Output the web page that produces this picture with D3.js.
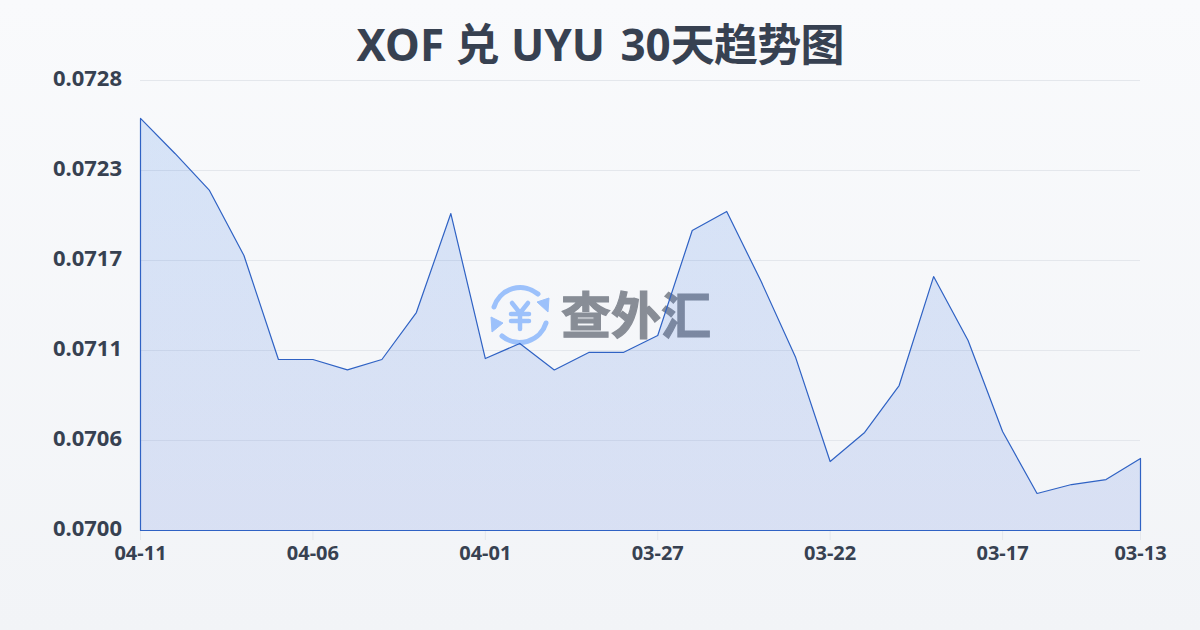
<!DOCTYPE html>
<html><head><meta charset="utf-8">
<script src="https://cdn.jsdelivr.net/npm/d3@7/dist/d3.min.js"></script>
<style>html,body{margin:0;padding:0;background:#f5f7fa}svg{display:block}</style>
</head><body><svg id="c" width="1200" height="630"></svg>
<script>
const titleParts = ["XOF 兑 UYU ","30","天趋势图"];
const dates = ["04-11","04-10","04-09","04-08","04-07","04-06","04-05","04-04","04-03","04-02","04-01","03-31","03-30","03-29","03-28","03-27","03-26","03-25","03-24","03-23","03-22","03-21","03-20","03-19","03-18","03-17","03-16","03-15","03-14","03-13"];
const rates = [0.072564,0.072346,0.072116,0.071711,0.071064,0.071064,0.070999,0.071064,0.071356,0.071972,0.071070,0.071164,0.070999,0.071108,0.071108,0.071213,0.071867,0.071985,0.071549,0.071076,0.070429,0.070610,0.070902,0.071580,0.071182,0.070616,0.070230,0.070286,0.070317,0.070448];
const yTicks = [0.0700,0.07056,0.07112,0.07168,0.07224,0.0728];
const yTickLabels = ["0.0700","0.0706","0.0711","0.0717","0.0723","0.0728"];
const xTickLabels = ["04-11","04-06","04-01","03-27","03-22","03-17","03-13"];
const font = "'Noto Sans','Noto Sans CJK SC',sans-serif";
const svg = d3.select("#c");
const defs = svg.append("defs");
const bg = defs.append("linearGradient").attr("id","bg").attr("x1",0).attr("y1",0).attr("x2",0).attr("y2",1);
bg.append("stop").attr("offset",0).attr("stop-color","#f9fafc");
bg.append("stop").attr("offset",1).attr("stop-color","#f2f4f7");
const af = defs.append("linearGradient").attr("id","af").attr("gradientUnits","userSpaceOnUse").attr("x1",0).attr("y1",118).attr("x2",0).attr("y2",530);
af.append("stop").attr("offset",0).attr("stop-color","#357ce5").attr("stop-opacity",.17);
af.append("stop").attr("offset",1).attr("stop-color","#3560d8").attr("stop-opacity",.14);
svg.append("rect").attr("width",1200).attr("height",630).attr("fill","url(#bg)");

const x = d3.scalePoint().domain(dates).range([140.5,1140.5]);
const y = d3.scaleLinear().domain([0.07,0.0728]).range([530.5,80.5]);

// grid
svg.append("g").selectAll("line").data(yTicks).join("line")
  .attr("x1",140).attr("x2",1140).attr("y1",d=>y(d)).attr("y2",d=>y(d))
  .attr("stroke","#e4e7ec").attr("stroke-width",1);

// watermark
const wm = svg.append("g");
const ic = wm.append("g").attr("transform","translate(520,315)");
const blue = "#9cc1fb";
ic.append("path").attr("d","M-26,-8 A27.5,27.5 0 0 1 18,-21").attr("fill","none").attr("stroke",blue).attr("stroke-width",5).attr("stroke-linecap","round");
ic.append("path").attr("d","M26,8 A27.5,27.5 0 0 1 -18,21").attr("fill","none").attr("stroke",blue).attr("stroke-width",5).attr("stroke-linecap","round");
ic.append("path").attr("d","M29,-17 L28,-3 L17,-13 Z").attr("fill",blue).attr("stroke",blue).attr("stroke-width",1);
ic.append("path").attr("d","M-29,2 L-28,17 L-17,8 Z").attr("fill",blue).attr("stroke",blue).attr("stroke-width",1);
ic.append("path").attr("d","M-8,-12 L0,-2 L8,-12 M0,-2 L0,14 M-9,-1 L9,-1 M-9,6 L9,6").attr("fill","none").attr("stroke",blue).attr("stroke-width",4.5).attr("stroke-linecap","round").attr("stroke-linejoin","round");
wm.append("text").attr("x",636).attr("y",334).attr("text-anchor","middle")
  .attr("font-family","'Noto Sans CJK SC',sans-serif").attr("font-weight",700).attr("font-size",50).attr("fill","#888d96")
  .attr("stroke","#888d96").attr("stroke-width",1.2).text("查外汇");

// area
const area = d3.area().x((d,i)=>x(dates[i])).y0(y(0.07)).y1(d=>y(d));
svg.append("path").datum(rates).attr("d",d=>area(d)).attr("fill","url(#af)")
  .attr("stroke","#2f62c4").attr("stroke-width",1.2).attr("stroke-linejoin","round");

// x ticks
svg.append("g").selectAll("line").data(xTickLabels).join("line")
  .attr("x1",d=>x(d)).attr("x2",d=>x(d)).attr("y1",531).attr("y2",540).attr("stroke","#e4e7ec");
svg.append("g").selectAll("text").data(xTickLabels).join("text")
  .attr("x",d=>x(d)).attr("y",560).attr("text-anchor","middle")
  .attr("font-family",font).attr("font-weight",700).attr("font-size",20).attr("fill","#374151").text(d=>d);

// y labels
svg.append("g").selectAll("text").data(yTickLabels).join("text")
  .attr("x",122).attr("y",(d,i)=>y(yTicks[i])-2.5).attr("text-anchor","end")
  .attr("dy","0.35em")
  .attr("font-family",font).attr("font-weight",700).attr("font-size",22).attr("fill","#374151").text(d=>d);

// title
const title = svg.append("text").attr("x",356.5).attr("y",61).attr("text-anchor","start")
  .attr("font-family",font).attr("font-weight",700).attr("font-size",44).attr("fill","#374151");
title.append("tspan").text(titleParts[0]);
title.append("tspan").attr("dx",4).text(titleParts[1]);
title.append("tspan").attr("letter-spacing",-0.8).text(titleParts[2]);
</script></body></html>
